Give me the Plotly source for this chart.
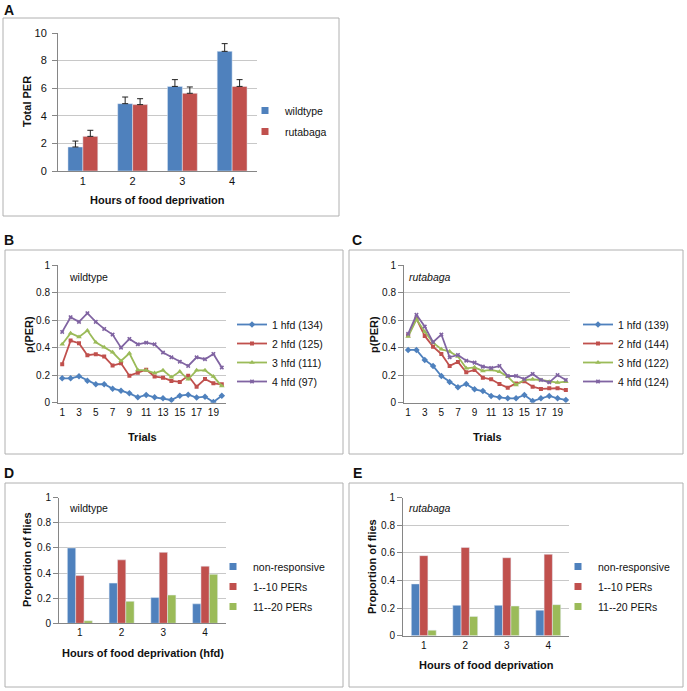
import plotly.graph_objects as go

W, H = 687, 691
FONT = "Arial, Liberation Sans, sans-serif"

BLUE, RED, GREEN, PURPLE = "#4F81BD", "#C0504D", "#9BBB59", "#8064A2"

# ---------- data ----------
hours = ["1", "2", "3", "4"]
a_wildtype = [1.74, 4.88, 6.13, 8.67]
a_wildtype_err = [0.43, 0.48, 0.49, 0.56]
a_rutabaga = [2.51, 4.81, 5.63, 6.13]
a_rutabaga_err = [0.44, 0.43, 0.46, 0.49]

trials = list(range(1, 21))
trial_ticks = [1, 3, 5, 7, 9, 11, 13, 15, 17, 19]
wt_1hfd = [0.177, 0.177, 0.192, 0.16, 0.134, 0.134, 0.102, 0.087, 0.068, 0.039,
           0.056, 0.039, 0.032, 0.02, 0.051, 0.058, 0.037, 0.044, 0.005, 0.051]
wt_2hfd = [0.279, 0.451, 0.432, 0.345, 0.352, 0.335, 0.27, 0.286, 0.196, 0.218,
           0.24, 0.19, 0.182, 0.158, 0.151, 0.196, 0.116, 0.172, 0.141, 0.134]
wt_3hfd = [0.424, 0.505, 0.478, 0.524, 0.439, 0.403, 0.366, 0.303, 0.359, 0.238,
           0.235, 0.215, 0.235, 0.185, 0.226, 0.17, 0.235, 0.235, 0.19, 0.121]
wt_4hfd = [0.514, 0.621, 0.587, 0.65, 0.587, 0.536, 0.495, 0.4, 0.463, 0.424,
           0.436, 0.424, 0.364, 0.33, 0.298, 0.267, 0.33, 0.316, 0.354, 0.255]
wt_names = ["1 hfd (134)", "2 hfd (125)", "3 hfd (111)", "4 hfd (97)"]

rb_1hfd = [0.383, 0.383, 0.311, 0.267, 0.194, 0.15, 0.112, 0.136, 0.097, 0.085,
           0.049, 0.039, 0.032, 0.032, 0.056, 0.012, 0.032, 0.049, 0.032, 0.02]
rb_2hfd = [0.49, 0.61, 0.485, 0.407, 0.354, 0.267, 0.296, 0.221, 0.238, 0.182,
           0.17, 0.136, 0.109, 0.14, 0.155, 0.116, 0.1, 0.105, 0.105, 0.092]
rb_3hfd = [0.48, 0.606, 0.516, 0.436, 0.388, 0.371, 0.335, 0.25, 0.257, 0.231,
           0.238, 0.225, 0.189, 0.129, 0.165, 0.17, 0.165, 0.153, 0.146, 0.153]
rb_4hfd = [0.5, 0.638, 0.553, 0.44, 0.495, 0.33, 0.347, 0.305, 0.291, 0.262,
           0.252, 0.267, 0.194, 0.194, 0.172, 0.209, 0.165, 0.148, 0.201, 0.165]
rb_names = ["1 hfd (139)", "2 hfd (144)", "3 hfd (122)", "4 hfd (124)"]

d_nonresp = [0.60, 0.32, 0.205, 0.155]
d_1to10 = [0.38, 0.505, 0.565, 0.455]
d_11to20 = [0.02, 0.175, 0.225, 0.39]
e_nonresp = [0.375, 0.22, 0.22, 0.185]
e_1to10 = [0.58, 0.64, 0.565, 0.59]
e_11to20 = [0.04, 0.14, 0.215, 0.225]
de_names = ["non-responsive", "1--10 PERs", "11--20 PERs"]

# ---------- helpers ----------
def px(x):
    return x / W

def py(y):
    return 1 - y / H

fig = go.Figure()

def legend_square(name, color, xa, ya, leg):
    # legend-only entry with a small square symbol, like the Excel legend key
    fig.add_trace(go.Scatter(x=[None], y=[None], mode="markers", name=name,
                             marker=dict(symbol="square", size=7, color=color),
                             xaxis=xa, yaxis=ya, legend=leg, legendgroup=leg + name,
                             hoverinfo="skip"))

# Panel A
fig.add_trace(go.Bar(x=hours, y=a_wildtype, name="wildtype", marker_color=BLUE, showlegend=False,
                     error_y=dict(type="data", array=a_wildtype_err, arrayminus=[0]*4,
                                  symmetric=False, color="#222", thickness=1, width=3),
                     xaxis="x", yaxis="y"))
fig.add_trace(go.Bar(x=hours, y=a_rutabaga, name="rutabaga", marker_color=RED, showlegend=False,
                     error_y=dict(type="data", array=a_rutabaga_err, arrayminus=[0]*4,
                                  symmetric=False, color="#222", thickness=1, width=3),
                     xaxis="x", yaxis="y"))
legend_square("wildtype", BLUE, "x", "y", "legend")
legend_square("rutabaga", RED, "x", "y", "legend")

markers = [dict(symbol="diamond", size=5), dict(symbol="square", size=4),
           dict(symbol="triangle-up", size=5), dict(symbol="x", size=4)]
line_cols = [BLUE, RED, GREEN, PURPLE]

for series, name, m, c in zip([wt_1hfd, wt_2hfd, wt_3hfd, wt_4hfd], wt_names, markers, line_cols):
    fig.add_trace(go.Scatter(x=trials, y=series, name=name, mode="lines+markers",
                             line=dict(color=c, width=1.8), marker=dict(color=c, **m),
                             xaxis="x2", yaxis="y2", legend="legend2", legendgroup="b" + name))
for series, name, m, c in zip([rb_1hfd, rb_2hfd, rb_3hfd, rb_4hfd], rb_names, markers, line_cols):
    fig.add_trace(go.Scatter(x=trials, y=series, name=name, mode="lines+markers",
                             line=dict(color=c, width=1.8), marker=dict(color=c, **m),
                             xaxis="x3", yaxis="y3", legend="legend3", legendgroup="c" + name))

for series, name, c in zip([d_nonresp, d_1to10, d_11to20], de_names, [BLUE, RED, GREEN]):
    fig.add_trace(go.Bar(x=hours, y=series, name=name, marker_color=c, showlegend=False,
                         xaxis="x4", yaxis="y4"))
for name, c in zip(de_names, [BLUE, RED, GREEN]):
    legend_square(name, c, "x4", "y4", "legend4")
for series, name, c in zip([e_nonresp, e_1to10, e_11to20], de_names, [BLUE, RED, GREEN]):
    fig.add_trace(go.Bar(x=hours, y=series, name=name, marker_color=c, showlegend=False,
                         xaxis="x5", yaxis="y5"))
for name, c in zip(de_names, [BLUE, RED, GREEN]):
    legend_square(name, c, "x5", "y5", "legend5")

AXC = "#868686"
GRID = "#C8C8C8"
TICKF = dict(family=FONT, size=10, color="#111")

def xax(x0, x1, anchor, **kw):
    d = dict(domain=[px(x0), px(x1)], anchor=anchor, showline=True, linecolor=AXC,
             linewidth=1, showgrid=False, zeroline=False, ticks="", tickfont=TICKF,
             fixedrange=True)
    d.update(kw)
    return d

def yax(y_top, y_bot, anchor, **kw):
    d = dict(domain=[py(y_bot), py(y_top)], anchor=anchor, showline=True, linecolor=AXC,
             linewidth=1, showgrid=True, gridcolor=GRID, gridwidth=1, zeroline=False,
             ticks="outside", ticklen=5, tickcolor=AXC, tickfont=TICKF, fixedrange=True,
             ticklabelstandoff=0)
    d.update(kw)
    return d

bgap_tr = dict(range=[0.5, 20.5], tickmode="array", tickvals=trial_ticks)

fig.update_layout(
    width=W, height=H, autosize=False,
    margin=dict(l=0, r=0, t=0, b=0, autoexpand=False),
    paper_bgcolor="white", plot_bgcolor="white",
    font=dict(family=FONT, size=10, color="#111"),
    barmode="group",
    bargap=0.4, bargroupgap=0,
    xaxis=xax(58, 257, "y", tickfont=dict(family=FONT, size=11, color="#111")),
    yaxis=yax(33, 171, "x", range=[0, 10], dtick=2, ticklabelstandoff=3,
              tickfont=dict(family=FONT, size=11, color="#111")),
    xaxis2=xax(58, 226, "y2", **bgap_tr),
    yaxis2=yax(265, 402.7, "x2", range=[0, 1], dtick=0.2),
    xaxis3=xax(404, 570, "y3", **bgap_tr),
    yaxis3=yax(265, 402.7, "x3", range=[0, 1], dtick=0.2),
    xaxis4=xax(59, 226, "y4"),
    yaxis4=yax(497.7, 623.3, "x4", range=[0, 1], dtick=0.2),
    xaxis5=xax(403, 569, "y5"),
    yaxis5=yax(497.7, 635.7, "x5", range=[0, 1], dtick=0.2),
)

def legend_at(x_text, y_first, gap):
    return dict(x=px(x_text - 40), y=py(y_first - 14), xanchor="left", yanchor="top",
                bgcolor="rgba(0,0,0,0)", borderwidth=0, tracegroupgap=gap,
                font=dict(family=FONT, size=10.5, color="#111"), itemclick=False,
                itemdoubleclick=False)

fig.update_layout(
    legend=legend_at(285, 110, 2),
    legend2=legend_at(272, 324, 0),
    legend3=legend_at(618, 324, 0),
    legend4=legend_at(253, 566, 1),
    legend5=legend_at(598, 566, 1),
)

# panel boxes
BOX = "#B0B0B0"
for (x0, y0, x1, y1) in [(3, 18, 339, 216), (5, 250, 343, 454), (349, 250, 683, 454),
                         (5, 483, 343, 687), (349, 483, 683, 687)]:
    fig.add_shape(type="rect", xref="paper", yref="paper", x0=px(x0), x1=px(x1),
                  y0=py(y1), y1=py(y0), line=dict(color=BOX, width=1), fillcolor="rgba(0,0,0,0)",
                  layer="below")

ann = []
def text(x, y, s, size=10, bold=False, italic=False, xanchor="center", angle=0):
    t = s
    if bold:
        t = "<b>" + t + "</b>"
    if italic:
        t = "<i>" + t + "</i>"
    ann.append(dict(x=px(x), y=py(y), xref="paper", yref="paper", text=t, showarrow=False,
                    xanchor=xanchor, yanchor="middle", textangle=angle,
                    font=dict(family=FONT, size=size, color="#111")))

# panel letters
for lx, ly, l in [(9, 10, "A"), (9, 240, "B"), (357, 240, "C"), (9, 473, "D"), (357, 473, "E")]:
    text(lx, ly, l, size=14, bold=True)

# axis titles
text(157, 200, "Hours of food deprivation", size=11, bold=True)
text(27, 102, "Total PER", size=11, bold=True, angle=-90)
text(142, 437, "Trials", size=11, bold=True)
text(487, 437, "Trials", size=11, bold=True)
text(29, 335, "p(PER)", size=11, bold=True, angle=-90)
text(374, 335, "p(PER)", size=11, bold=True, angle=-90)
text(143, 653, "Hours of food deprivation (hfd)", size=11, bold=True)
text(27, 560, "Proportion of flies", size=11, bold=True, angle=-90)
text(486, 665, "Hours of food deprivation", size=11, bold=True)
text(372, 567, "Proportion of flies", size=11, bold=True, angle=-90)

# in-plot labels
text(67, 277, "wildtype", size=10.5, xanchor="left")
text(407, 277, "rutabaga", size=10.5, italic=True, xanchor="left")
text(67, 508, "wildtype", size=10.5, xanchor="left")
text(407, 508, "rutabaga", size=10.5, italic=True, xanchor="left")

fig.update_layout(annotations=ann)

fig.write_html("out.html", config={"displayModeBar": False},
               post_script="document.body.style.margin='0';document.body.style.padding='0';")
